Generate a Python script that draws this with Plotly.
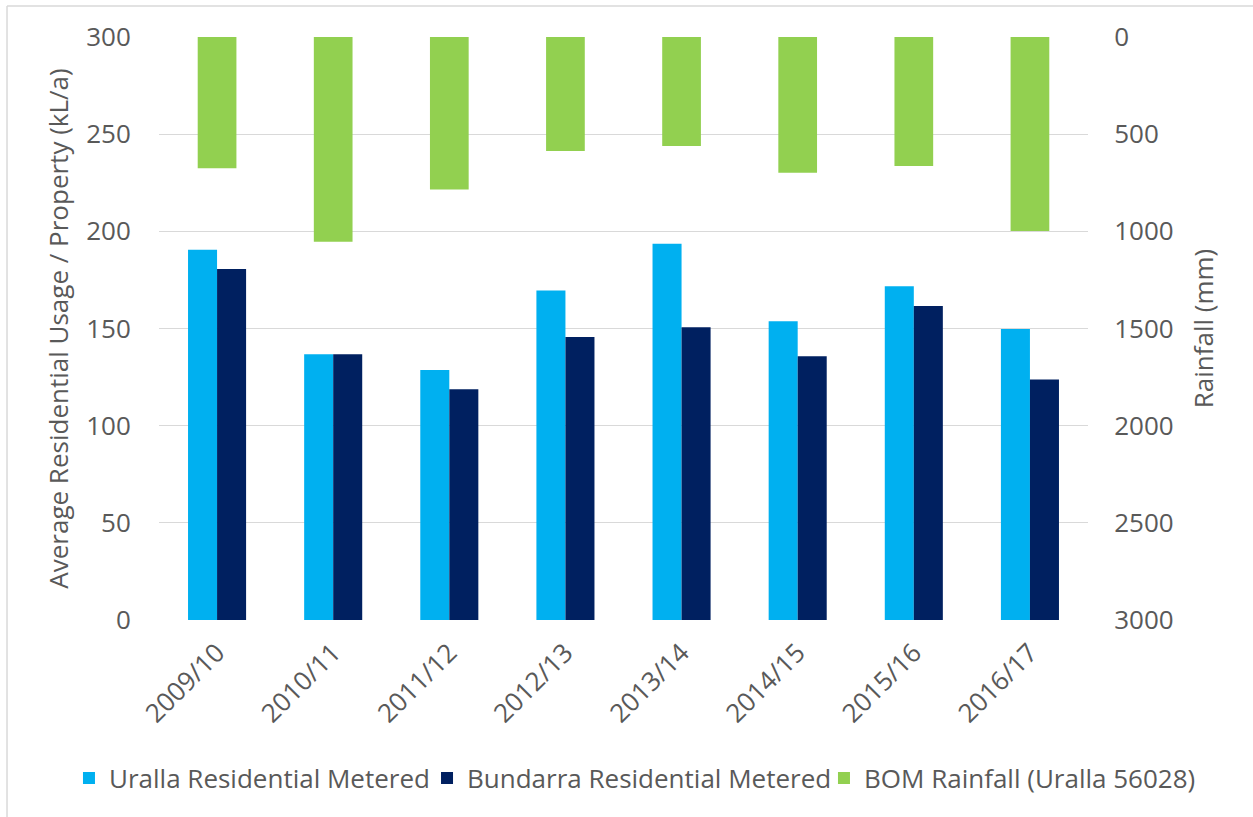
import plotly.graph_objects as go

years = ["2009/10", "2010/11", "2011/12", "2012/13", "2013/14", "2014/15", "2015/16", "2016/17"]
uralla = [190.5, 136.7, 128.6, 169.6, 193.6, 153.7, 171.7, 149.7]
bundarra = [180.6, 136.7, 118.7, 145.6, 150.6, 135.7, 161.6, 123.7]
rainfall = [676, 1053, 785, 586, 561, 698, 664, 998]

left_ticks = [0, 50, 100, 150, 200, 250, 300]
right_ticks = [0, 500, 1000, 1500, 2000, 2500, 3000]

TXT = "#595959"
FONT = "Open Sans"

fig = go.Figure()
fig.add_trace(go.Bar(name="Uralla Residential Metered", x=years, y=uralla,
                     marker=dict(color="#00B0F0", line=dict(width=0)),
                     width=0.25, offset=-0.25, yaxis="y", legend="legend"))
fig.add_trace(go.Bar(name="Bundarra Residential Metered", x=years, y=bundarra,
                     marker=dict(color="#002060", line=dict(width=0)),
                     width=0.25, offset=0.0, yaxis="y", legend="legend2"))
fig.add_trace(go.Bar(name="BOM Rainfall (Uralla 56028)", x=years, y=rainfall,
                     marker=dict(color="#92D050", line=dict(width=0)),
                     width=1/3, offset=-1/6, yaxis="y2", legend="legend3"))

leg_common = dict(orientation="h", xref="paper", yref="paper", xanchor="left",
                  y=-0.271, yanchor="middle", itemwidth=30,
                  font=dict(family=FONT, size=26, color=TXT), bgcolor="rgba(0,0,0,0)")

fig.update_layout(
    width=1253, height=817,
    margin=dict(l=159, r=165, t=37, b=197, autoexpand=False),
    paper_bgcolor="white", plot_bgcolor="white",
    barmode="overlay",
    font=dict(family=FONT, color=TXT, size=26),
    showlegend=True,
    legend=dict(x=-0.0969, **leg_common),
    legend2=dict(x=0.2885, **leg_common),
    legend3=dict(x=0.7158, **leg_common),
    xaxis=dict(type="category", tickangle=-45, showgrid=False, zeroline=False,
               showline=False, ticks="outside", ticklen=6, tickcolor="rgba(0,0,0,0)",
               tickfont=dict(size=26, color=TXT),
               range=[-0.5, 7.5]),
    yaxis=dict(range=[0, 300], tickvals=left_ticks, showgrid=True, gridcolor="#D9D9D9",
               gridwidth=1, zeroline=False, showline=False,
               ticks="outside", ticklen=22, tickcolor="rgba(0,0,0,0)",
               tickfont=dict(size=26, color=TXT),
               title=dict(text="Average Residential Usage / Property (kL/a)",
                          font=dict(size=26, color=TXT), standoff=10)),
    yaxis2=dict(range=[3000, 0], tickvals=right_ticks, overlaying="y", side="right",
                showgrid=False, zeroline=False, showline=False,
                ticks="outside", ticklen=20, tickcolor="rgba(0,0,0,0)",
                tickfont=dict(size=26, color=TXT),
                title=dict(text="Rainfall (mm)", font=dict(size=26, color=TXT), standoff=22)),
    shapes=[
        dict(type="line", xref="paper", yref="paper", x0=-0.1636, x1=1.18, y0=1.0532, y1=1.0532,
             line=dict(color="#D9D9D9", width=1.5)),
        dict(type="line", xref="paper", yref="paper", x0=-0.1636, x1=-0.1636, y0=1.0532, y1=-0.36,
             line=dict(color="#D9D9D9", width=1.5)),
    ],
)

fig.write_html("out.html", config={"displayModeBar": False},
               post_script="document.body.style.margin='0';document.body.style.overflow='hidden';")
